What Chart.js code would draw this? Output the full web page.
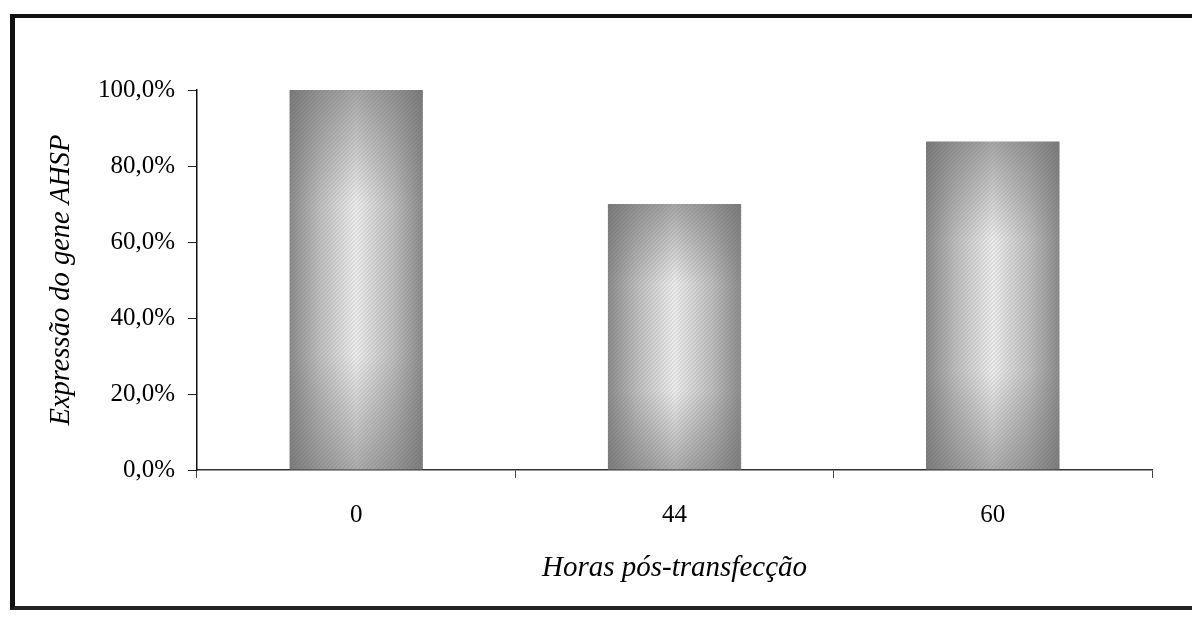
<!DOCTYPE html>
<html>
<head>
<meta charset="utf-8">
<script src="https://cdn.jsdelivr.net/npm/chart.js@4/dist/chart.umd.min.js"></script>
<style>
  html, body { margin: 0; padding: 0; background: #fff; overflow: hidden; }
  #wrap { position: relative; width: 1192px; height: 621px; }
  #frame {
    position: absolute; left: 10px; top: 14px; width: 1200px; height: 588px;
    border-left: 5px solid #111; border-top: 4px solid #111; border-bottom: 4px solid #222;
    pointer-events: none;
  }
  canvas { position: absolute; left: 0; top: 0; }
</style>
</head>
<body>
<div id="wrap">
  <canvas id="chart" width="1192" height="621"></canvas>
  <div id="frame"></div>
</div>
<script>
// Expressão do gene AHSP vs horas pós-transfecção
const HOURS = ["0", "44", "60"];
const EXPRESSION = [100, 70, 86.5];

const FONT = "'Liberation Serif', 'Times New Roman', serif";
const BAR_PCT = 0.42;

// Gray shaded bars (old halftone look): dark at the edges, almost white in the middle
function barFill(ctx) {
  const fallback = "#b5b5b5";
  const chart = ctx.chart;
  const { x, y } = chart.scales;
  if (!x || !y || ctx.dataIndex === undefined) return fallback;
  const cx = x.getPixelForValue(ctx.dataIndex);
  const w = (x.width / HOURS.length) * BAR_PCT;
  const top = y.getPixelForValue(EXPRESSION[ctx.dataIndex]);
  const h = y.getPixelForValue(0) - top;
  if (![cx, w, top, h].every(isFinite) || w < 2 || h < 2) return fallback;

  const off = document.createElement("canvas");
  off.width = Math.ceil(w);
  off.height = Math.ceil(h);
  const o = off.getContext("2d");

  const gh = o.createLinearGradient(0, 0, w, 0);
  gh.addColorStop(0, "#8c8c8c");
  gh.addColorStop(0.22, "#bdbdbd");
  gh.addColorStop(0.5, "#ececec");
  gh.addColorStop(0.78, "#bdbdbd");
  gh.addColorStop(1, "#8c8c8c");
  o.fillStyle = gh;
  o.fillRect(0, 0, w, h);

  const gv = o.createLinearGradient(0, 0, 0, h);
  gv.addColorStop(0, "rgba(110,110,110,0.55)");
  gv.addColorStop(0.3, "rgba(110,110,110,0)");
  gv.addColorStop(0.7, "rgba(110,110,110,0)");
  gv.addColorStop(1, "rgba(110,110,110,0.5)");
  o.fillStyle = gv;
  o.fillRect(0, 0, w, h);

  // fine diagonal hatch, like the printed screen
  o.strokeStyle = "rgba(50,50,50,0.16)";
  o.lineWidth = 1;
  for (let d = -h; d < w; d += 4) {
    o.beginPath();
    o.moveTo(d, h);
    o.lineTo(d + h, 0);
    o.stroke();
  }

  const p = chart.ctx.createPattern(off, "no-repeat");
  p.setTransform(new DOMMatrix().translate(cx - w / 2, top));
  return p;
}

new Chart(document.getElementById("chart"), {
  type: "bar",
  data: {
    labels: HOURS,
    datasets: [{
      data: EXPRESSION,
      backgroundColor: barFill,
      borderWidth: 0,
      categoryPercentage: 1,
      barPercentage: BAR_PCT,
    }],
  },
  options: {
    responsive: false,
    animation: false,
    layout: { padding: { left: 0, top: 90, right: 40, bottom: 0 } },
    plugins: { legend: { display: false }, tooltip: { enabled: false } },
    scales: {
      x: {
        afterFit: (s) => { s.height = 151; },
        grid: { drawOnChartArea: false, drawTicks: true, tickLength: 8, color: "#444", offset: true },
        border: { display: true, color: "#333", width: 1.5 },
        ticks: { color: "#000", padding: 22, font: { family: FONT, size: 25 } },
        title: {
          display: true,
          text: "Horas pós-transfecção",
          color: "#000",
          font: { family: FONT, size: 29, style: "italic" },
          padding: { top: 0, bottom: 35 },
        },
      },
      y: {
        min: 0,
        max: 100,
        afterFit: (s) => { s.width = 197; },
        grid: { drawOnChartArea: false, drawTicks: true, tickLength: 9, color: "#222" },
        border: { display: true, color: "#111", width: 1.5 },
        ticks: {
          stepSize: 20,
          color: "#000",
          padding: 13,
          font: { family: FONT, size: 25 },
          callback: (v) => v.toFixed(1).replace(".", ",") + "%",
        },
        title: {
          display: true,
          text: "Expressão do gene AHSP",
          color: "#000",
          font: { family: FONT, size: 28.5, style: "italic" },
          padding: { top: 44, bottom: 0 },
        },
      },
    },
  },
});
</script>
</body>
</html>
